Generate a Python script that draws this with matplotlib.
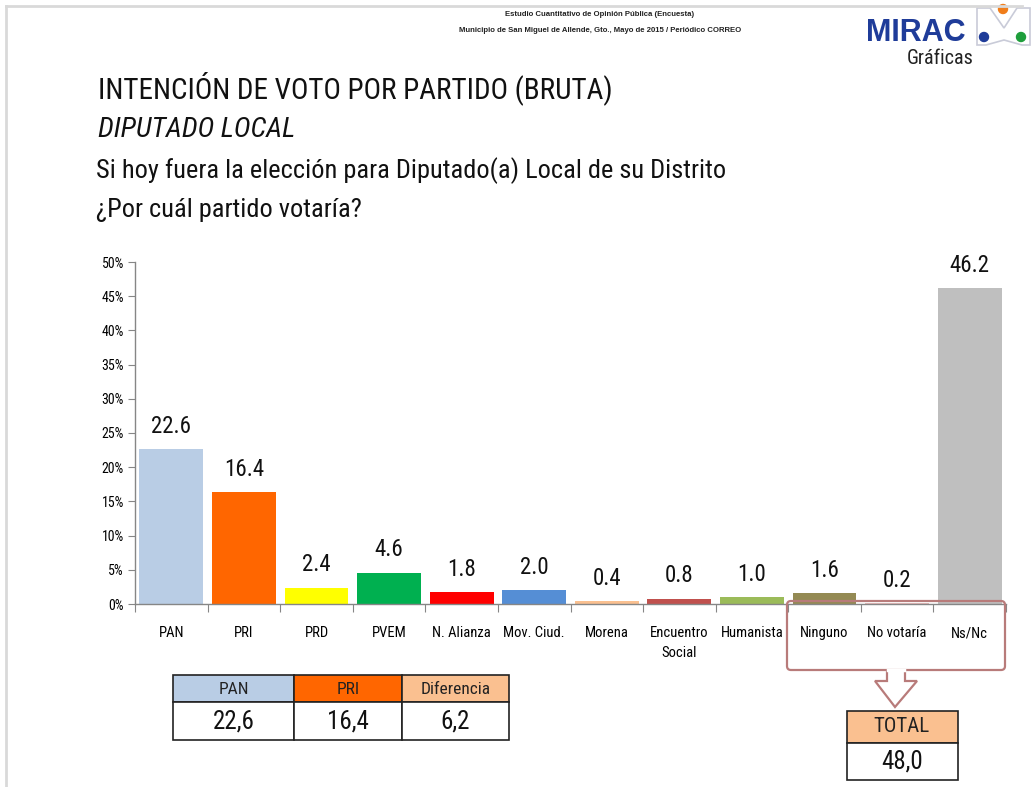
import matplotlib
matplotlib.use("Agg")
import matplotlib.pyplot as plt
from matplotlib.patches import Rectangle, FancyBboxPatch, Polygon, Circle
from matplotlib import font_manager

# ---------------- data ----------------
categories = ["PAN", "PRI", "PRD", "PVEM", "N. Alianza", "Mov. Ciud.", "Morena",
              "Encuentro\nSocial", "Humanista", "Ninguno", "No votaría", "Ns/Nc"]
values = [22.6, 16.4, 2.4, 4.6, 1.8, 2.0, 0.4, 0.8, 1.0, 1.6, 0.2, 46.2]
bar_colors = ["#B9CDE5", "#FF6600", "#FFFF00", "#00B050", "#FF0000", "#558ED5",
              "#FAC090", "#C0504D", "#9BBB59", "#948A54", "#E6B9B8", "#BFBFBF"]
yticks = [0, 5, 10, 15, 20, 25, 30, 35, 40, 45, 50]
table_heads = ["PAN", "PRI", "Diferencia"]
pan_val = values[0]
pri_val = values[1]
table_vals = [pan_val, pri_val, pan_val - pri_val]
total_group = ["Ninguno", "No votaría", "Ns/Nc"]
total_val = sum(values[categories.index(g)] for g in total_group)

# ---------------- fonts ----------------
avail = {f.name for f in font_manager.fontManager.ttflist}
def pick(*names):
    for n in names:
        if n in avail:
            return n
    return "DejaVu Sans"
NARROW = pick("Liberation Sans Narrow", "Roboto Condensed", "Open Sans Condensed", "Liberation Sans")
plt.rcParams["font.family"] = [NARROW, "DejaVu Sans"]

W, H = 1033, 787
fig = plt.figure(figsize=(W / 100, H / 100), dpi=100)
fig.patch.set_facecolor("white")

def fx(px):
    return px / W
def fy(py):
    return 1 - py / H

# ---------------- chart ----------------
ax = fig.add_axes([fx(135), fy(604), fx(1006) - fx(135), fy(262) - fy(604)])
x = list(range(len(categories)))
ax.bar(x, values, width=0.88, color=bar_colors, zorder=2)
ax.set_xlim(-0.5, len(categories) - 0.5)
ax.set_ylim(0, 50)
ax.set_yticks(yticks)
ax.set_yticklabels([f"{t}%" for t in yticks], fontsize=10, family=[NARROW, "DejaVu Sans"])
ax.set_xticks([i - 0.5 for i in range(len(categories) + 1)])
ax.set_xticklabels([])
ax.set_xticks(x, minor=True)
ax.set_xticklabels(categories, minor=True, fontsize=10.5, family=[NARROW, "DejaVu Sans"],
                   va="top", linespacing=1.5)
ax.tick_params(axis="x", which="major", length=6, color="#868686", direction="out")
ax.tick_params(axis="x", which="minor", length=0, pad=16)
ax.tick_params(axis="y", length=5, color="#868686", pad=3)
for s in ["top", "right"]:
    ax.spines[s].set_visible(False)
for s in ["left", "bottom"]:
    ax.spines[s].set_color("#868686")
    ax.spines[s].set_linewidth(1.0)
for xi, v in zip(x, values):
    ax.annotate(f"{v:.1f}", (xi, v), xytext=(0, 8), textcoords="offset points",
                ha="center", va="bottom", fontsize=16.5, color="#111111",
                family=[NARROW, "DejaVu Sans"])

# ---------------- overlay (pixel coords) ----------------
ov = fig.add_axes([0, 0, 1, 1], facecolor="none")
ov.set_xlim(0, W)
ov.set_ylim(H, 0)
ov.axis("off")

# frame lines
ov.plot([6, 1022], [6, 6], color="#D9D9D9", lw=2)
ov.plot([6, 6], [6, H], color="#D9D9D9", lw=2)

# header
ov.text(600, 15, "Estudio Cuantitativo de Opinión Pública (Encuesta)", ha="center",
        va="center", fontsize=5.6, fontweight="bold", color="#222222",
        family=["Liberation Sans", "DejaVu Sans"])
ov.text(600, 30, "Municipio de San Miguel de Allende, Gto., Mayo de 2015 / Periódico CORREO",
        ha="center", va="center", fontsize=5.6, fontweight="bold", color="#222222",
        family=["Liberation Sans", "DejaVu Sans"])

# logo
ov.text(866, 33, "MIRAC", ha="left", va="center", fontsize=22, fontweight="heavy",
        color="#1F3C99", family=["Liberation Sans", "DejaVu Sans"])
ov.add_patch(Polygon([(977, 8), (990, 8), (1004, 28), (1017, 8), (1030, 8),
                      (1030, 45), (1022, 45), (1004, 40), (986, 45), (977, 45)],
                     closed=True, facecolor="white", edgecolor="#C9CBD8", lw=1.2))
ov.add_patch(Circle((984, 37), 4.5, color="#1F3C99"))
ov.add_patch(Circle((1003, 9), 4.5, color="#F07D1A"))
ov.add_patch(Circle((1021, 37), 4.5, color="#1E9E3B"))
ov.text(940, 58, "Gráficas", ha="center", va="center", fontsize=14.5, color="#222222",
        family=[NARROW, "DejaVu Sans"])

# titles
ov.text(98, 88, "INTENCIÓN DE VOTO POR PARTIDO (BRUTA)", ha="left", va="center",
        fontsize=21, color="#111111", family=[NARROW, "DejaVu Sans"])
ov.text(98, 130, "DIPUTADO LOCAL", ha="left", va="center", fontsize=20.5, style="italic",
        color="#111111", family=[NARROW, "DejaVu Sans"])
ov.text(96, 171, "Si hoy fuera la elección para Diputado(a) Local de su Distrito", ha="left",
        va="center", fontsize=19, color="#111111", family=[NARROW, "DejaVu Sans"])
ov.text(96, 210, "¿Por cuál partido votaría?", ha="left", va="center",
        fontsize=19, color="#111111", family=[NARROW, "DejaVu Sans"])

# PAN / PRI / Diferencia table
head_colors = [bar_colors[0], bar_colors[1], "#FAC090"]
cols = [173, 294, 402, 509]
for i, (h, v) in enumerate(zip(table_heads, table_vals)):
    x0, x1 = cols[i], cols[i + 1]
    ov.add_patch(Rectangle((x0, 675), x1 - x0, 27, facecolor=head_colors[i],
                           edgecolor="#222222", lw=1.2))
    ov.add_patch(Rectangle((x0, 702), x1 - x0, 38, facecolor="white",
                           edgecolor="#222222", lw=1.2))
    ov.text((x0 + x1) / 2, 689, h, ha="center", va="center", fontsize=12.5,
            color="#222222", family=[NARROW, "DejaVu Sans"])
    ov.text((x0 + x1) / 2, 721, f"{v:.1f}".replace(".", ","), ha="center", va="center",
            fontsize=18, color="#111111", family=[NARROW, "DejaVu Sans"])

# callout around last three categories
ov.add_patch(FancyBboxPatch((787, 601), 1005 - 787, 670 - 601,
                            boxstyle="round,pad=0,rounding_size=4",
                            facecolor="none", edgecolor="#B87B7A", lw=1.6))
ov.add_patch(Polygon([(887, 670), (887, 681), (875, 681), (895, 707), (917, 681),
                      (905, 681), (905, 670)], closed=False, facecolor="white",
                     edgecolor="#B87B7A", lw=1.6))
ov.plot([888, 904], [670, 670], color="white", lw=2.5)

# TOTAL table
ov.add_patch(Rectangle((847, 711), 111, 32, facecolor="#FAC090", edgecolor="#222222", lw=1.2))
ov.add_patch(Rectangle((847, 743), 111, 37, facecolor="white", edgecolor="#222222", lw=1.2))
ov.text(902, 727, "TOTAL", ha="center", va="center", fontsize=15, color="#222222",
        family=[NARROW, "DejaVu Sans"])
ov.text(902, 762, f"{total_val:.1f}".replace(".", ","), ha="center", va="center",
        fontsize=18, color="#111111", family=[NARROW, "DejaVu Sans"])

fig.savefig("out.png", dpi=100, facecolor="white")
